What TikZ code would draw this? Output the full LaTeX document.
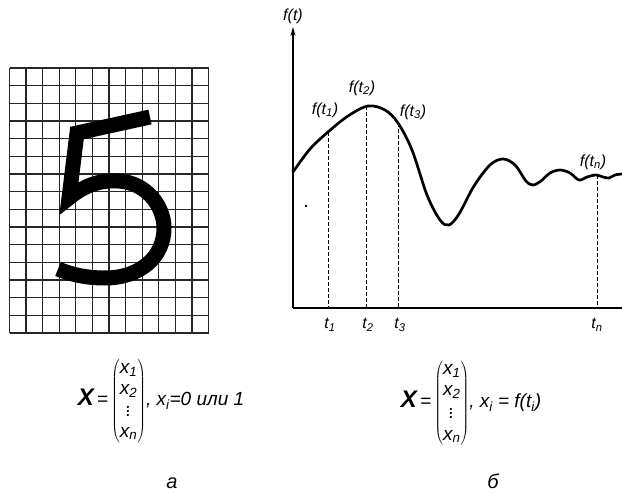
\documentclass[tikz,border=0pt]{standalone}
\usepackage{fontspec}
\setmainfont{Liberation Sans}
\usetikzlibrary{arrows.meta}
\begin{document}
\begin{tikzpicture}[x=1pt,y=-1pt,
  gridline/.style={line width=1.3pt, black!85},
  digit/.style={line width=15pt, line join=miter},
  axis/.style={line width=1.2pt},
  guide/.style={dash pattern=on 4pt off 2pt, line width=1pt},
  fcurve/.style={line width=2.7pt, line join=round, line cap=round},
  lbl/.style={font=\itshape\fontsize{16}{16}\selectfont, inner sep=0pt},
  frm/.style={font=\itshape\fontsize{19}{21}\selectfont, inner sep=0pt},
  figcap/.style={font=\itshape\fontsize{20}{20}\selectfont, inner sep=0pt, anchor=base}]
\useasboundingbox (0,0) rectangle (622,495);
% ---------- grid (a) ----------
\foreach \i in {0,...,12} \draw[gridline] (9.5+\i*16.583,68) -- ++(0,265);
\foreach \j in {0,...,15} \draw[gridline] (9.5,68+\j*17.667) -- ++(199,0);
% ---------- digit 5 ----------
\draw[digit] (150,117) -- (77,133) -- (69,198)
  .. controls (85,185) and (100,180) .. (118,181)
  .. controls (145,182) and (164,205) .. (164,228)
  .. controls (164,257) and (140,278) .. (105,278)
  .. controls (85,278) and (70,274) .. (58,269);
% ---------- axes (б) ----------
\coordinate (O) at (293,308);
\coordinate (Ytop) at (293,27);
\coordinate (Xend) at (622,308);
\draw[axis,-{Stealth[length=9pt,width=5pt]}] (O) -- (Ytop);
\draw[axis] (O) -- (Xend);
\node[lbl] (fl) at (293,16) {f(t)};
% ---------- curve ----------
\draw[fcurve] plot[smooth, tension=0.55] coordinates {
 (293,172) (310,149) (328,132) (348,116) (368,106) (385,110) (398,123)
 (412,150) (427,195) (440,220) (449,225) (459,214) (474,186) (490,165)
 (503,159) (515,165) (526,181) (533,185) (541,181) (550,173) (560,170)
 (570,173) (579,180) (587,177) (596,175) (603,177) (609,178) (615,175) (622,174)};
% ---------- sample points ----------
\coordinate (p1) at (328,132); \coordinate (b1) at (328,308);
\coordinate (p2) at (366,106); \coordinate (b2) at (366,308);
\coordinate (p3) at (398,123); \coordinate (b3) at (398,308);
\coordinate (pn) at (597,175); \coordinate (bn) at (597,308);
\draw[guide] (p1) -- (b1);
\draw[guide] (p2) -- (b2);
\draw[guide] (p3) -- (b3);
\draw[guide] (pn) -- (bn);
\fill (306,206) circle (1.3);
\node[lbl] (f1) at (325,110) {f(t\textsubscript{1})};
\node[lbl] (f2) at (362,88) {f(t\textsubscript{2})};
\node[lbl] (f3) at (413,112) {f(t\textsubscript{3})};
\node[lbl] (fn) at (593,162) {f(t\textsubscript{n})};
\node[lbl] (t1) at (330,325) {t\textsubscript{1}};
\node[lbl] (t2) at (368,325) {t\textsubscript{2}};
\node[lbl] (t3) at (400,325) {t\textsubscript{3}};
\node[lbl] (tn) at (597,325) {t\textsubscript{n}};
% ---------- formulas ----------
\node[frm] (fa) at (161,401) {{\bfseries\fontsize{24}{24}\selectfont X}\,=\,$\left(\begin{tabular}{@{}c@{}}x\textsubscript{1}\\x\textsubscript{2}\\$\vdots$\\x\textsubscript{n}\end{tabular}\right)$, x\textsubscript{i}=0 или 1};
\node[frm] (fb) at (471,403) {{\bfseries\fontsize{24}{24}\selectfont X}\,=\,$\left(\begin{tabular}{@{}c@{}}x\textsubscript{1}\\x\textsubscript{2}\\[1pt]$\vdots$\\[1pt]x\textsubscript{n}\end{tabular}\right)$, x\textsubscript{i} = f(t\textsubscript{i})};
\node[figcap] (ca) at (172,488) {а};
\node[figcap] (cb) at (493,488) {б};
\end{tikzpicture}
\end{document}
